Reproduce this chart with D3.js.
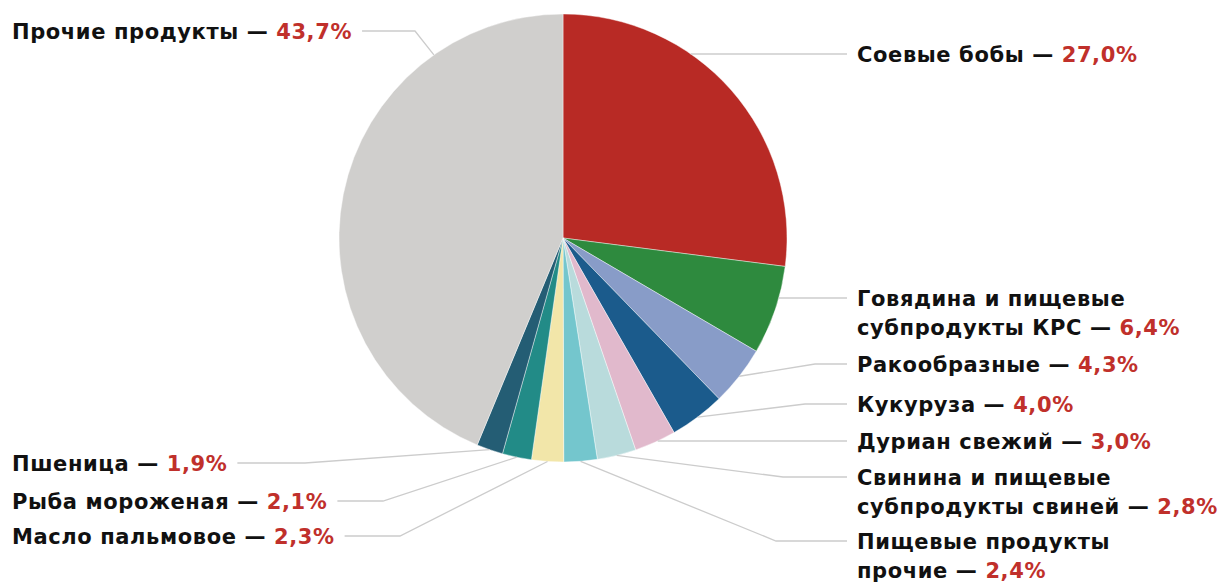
<!DOCTYPE html>
<html>
<head>
<meta charset="utf-8">
<script src="https://cdn.jsdelivr.net/npm/d3@7"></script>
<style>
  html, body { margin: 0; padding: 0; background: #ffffff; }
  svg { display: block; }
  .lbl { font-family: "DejaVu Sans", sans-serif; font-weight: bold; font-size: 21px; letter-spacing: 0.6px; fill: #111111; }
  .lbl .val { fill: #c0302b; }
</style>
</head>
<body>
<svg id="chart" width="1229" height="584"></svg>
<script>
// Structure of imports: share of each product group, %
const categories = [
  "Соевые бобы",
  "Говядина и пищевые субпродукты КРС",
  "Ракообразные",
  "Кукуруза",
  "Дуриан свежий",
  "Свинина и пищевые субпродукты свиней",
  "Пищевые продукты прочие",
  "Масло пальмовое",
  "Рыба мороженая",
  "Пшеница",
  "Прочие продукты"
];
const shares = [27.0, 6.4, 4.3, 4.0, 3.0, 2.8, 2.4, 2.3, 2.1, 1.9, 43.7];
// How each label wraps onto lines
const labelLines = [
  ["Соевые бобы"],
  ["Говядина и пищевые", "субпродукты КРС"],
  ["Ракообразные"],
  ["Кукуруза"],
  ["Дуриан свежий"],
  ["Свинина и пищевые", "субпродукты свиней"],
  ["Пищевые продукты", "прочие"],
  ["Масло пальмовое"],
  ["Рыба мороженая"],
  ["Пшеница"],
  ["Прочие продукты"]
];
const colors = [
  "#b82a25", "#2e8a3e", "#889cc8", "#1b5b8c", "#e1b9cc", "#b9dbdc",
  "#74c6cd", "#f2e6a9", "#228b87", "#245d74", "#d0cfcd"
];

// Label placement: leader y, knee x, and optional edge anchor
const labelLayout = [
  { side: "right", y: 54,  knee: null, edgeY: 54 },
  { side: "right", y: 298, knee: null, edgeY: 298 },
  { side: "right", y: 364, knee: 815 },
  { side: "right", y: 404, knee: 805 },
  { side: "right", y: 441, knee: null, edgeY: 441 },
  { side: "right", y: 477, knee: 783 },
  { side: "right", y: 541, knee: 776 },
  { side: "left",  y: 536, knee: 400 },
  { side: "left",  y: 501, knee: 383 },
  { side: "left",  y: 463, knee: 305 },
  { side: "left",  y: 31,  knee: 415, angle: 324.8 }
];

const cx = 563, cy = 238, R = 224;
const rightTextX = 857, leftTextX = 12;
const lineH = 28.5;

const svg = d3.select("#chart");
const fmt = v => d3.format(".1f")(v).replace(".", ",") + "%";

const data = categories.map((c, i) => ({ name: c, value: shares[i], lines: labelLines[i], color: colors[i], layout: labelLayout[i] }));

const pie = d3.pie().sort(null).value(d => d.value).startAngle(0).endAngle(2 * Math.PI);
const arc = d3.arc().innerRadius(0).outerRadius(R);
const arcs = pie(data);

const gPie = svg.append("g").attr("transform", `translate(${cx},${cy})`);
gPie.selectAll("path")
  .data(arcs)
  .join("path")
  .attr("d", arc)
  .attr("fill", d => d.data.color)
  .attr("stroke", "#ffffff")
  .attr("stroke-width", 0.6)
  .attr("stroke-opacity", 0.7);

// Leader lines from the slice edge to each label
const edgePoint = a => [cx + R * Math.sin(a), cy - R * Math.cos(a)];
const gLines = svg.append("g");
const gText = svg.append("g");

arcs.forEach(a => {
  const L = a.data.layout;
  let start;
  if (L.edgeY != null) {
    const dy = L.edgeY - cy;
    const dx = Math.sqrt(R * R - dy * dy);
    start = [L.side === "right" ? cx + dx : cx - dx, L.edgeY];
  } else if (L.angle != null) {
    start = edgePoint(L.angle * Math.PI / 180);
  } else {
    start = edgePoint((a.startAngle + a.endAngle) / 2);
  }
  const knee = L.knee != null ? [L.knee, L.y] : start;
  const text = gText.append("text").attr("class", "lbl");
  const nLines = a.data.lines.length;
  const baseY = L.y + 8;
  a.data.lines.forEach((ln, k) => {
    const last = k === nLines - 1;
    text.append("tspan")
      .attr("x", L.side === "right" ? rightTextX : leftTextX)
      .attr("y", baseY + k * lineH)
      .text(last ? ln + " — " : ln);
    if (last) text.append("tspan").attr("class", "val").text(fmt(a.data.value));
  });
  let endX;
  if (L.side === "right") {
    endX = rightTextX - 10;
  } else {
    endX = leftTextX + text.node().getComputedTextLength() + 10;
  }
  gLines.append("path")
    .attr("d", d3.line()([start, knee, [endX, L.y]]))
    .attr("fill", "none")
    .attr("stroke", "#cccccc")
    .attr("stroke-width", 1.3);
});
</script>
</body>
</html>
